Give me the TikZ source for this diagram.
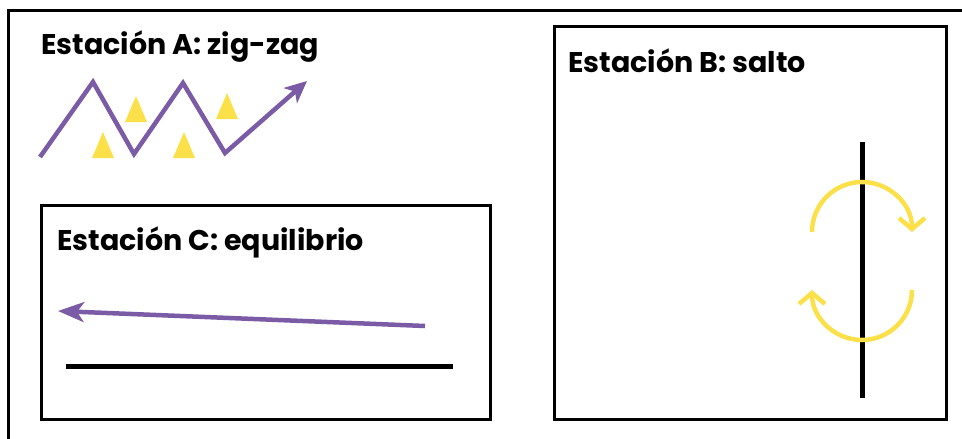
\documentclass[tikz,border=0pt]{standalone}
\usepackage{fontspec}
\setmainfont{Poppins}
\usetikzlibrary{arrows.meta}

\begin{document}
\begin{tikzpicture}[x=1pt,y=-1pt]
    	\definecolor{zigcolor}{HTML}{7B5BA6}
    	\definecolor{suncolor}{HTML}{FBE04A}
    	\tikzset{frame/.style={draw=black,line width=3pt},
    	  title/.style={anchor=base west,inner sep=0pt,font=\fontsize{28.5}{33}\selectfont\bfseries},
    	  zigline/.style={draw=zigcolor,line width=4.5pt},
    	  yarc/.style={draw=suncolor,line width=4.5pt,
    	    -{Straight Barb[length=11pt,width=26pt,line width=4.5pt]}},
    	  trifill/.style={fill=suncolor},
    	  bar/.style={draw=black,line width=5pt}}

    	\useasboundingbox (0,0) rectangle (962,439);
    	\clip (0,0) rectangle (962,439);

    	% outer frame and the two stations
    	\draw[frame] (970,10) -- (8.5,10) -- (8.5,450);
    	\draw[frame] (554,26) rectangle (946,419);
    	\draw[frame] (41,205) rectangle (490,419);

    	% station A
    	\node[title] (titA) at (41,54.5) {Estación A: zig-zag};
    	\foreach \x/\y in {136/96, 103/132, 184/132, 227/93}
    	  \fill[trifill] (\x-11,\y+26) -- (\x,\y) -- (\x+11,\y+26) -- cycle;
    	\draw[zigline,-{Stealth[length=22pt,width=20pt,inset=6pt]}]
    	  (40,157) -- (93,82) -- (134,154) -- (183,83) -- (225,153) -- (307,81);

    	% station B
    	\node[title] (titB) at (568,72) {Estación B: salto};
    	\draw[bar] (862,142) -- (862,398);
    	\draw[yarc] (812,232) arc[start angle=180,end angle=360,radius=50];
    	\draw[yarc] (912,290) arc[start angle=0,end angle=180,radius=50];

    	% station C
    	\node[title] (titC) at (57,250) {Estación C: equilibrio};
    	\draw[zigline,-{Stealth[length=26pt,width=20pt,inset=7pt]}] (425,326) -- (58,311);
    	\draw[bar] (66,366) -- (453,366);
    \end{tikzpicture}
\end{document}
